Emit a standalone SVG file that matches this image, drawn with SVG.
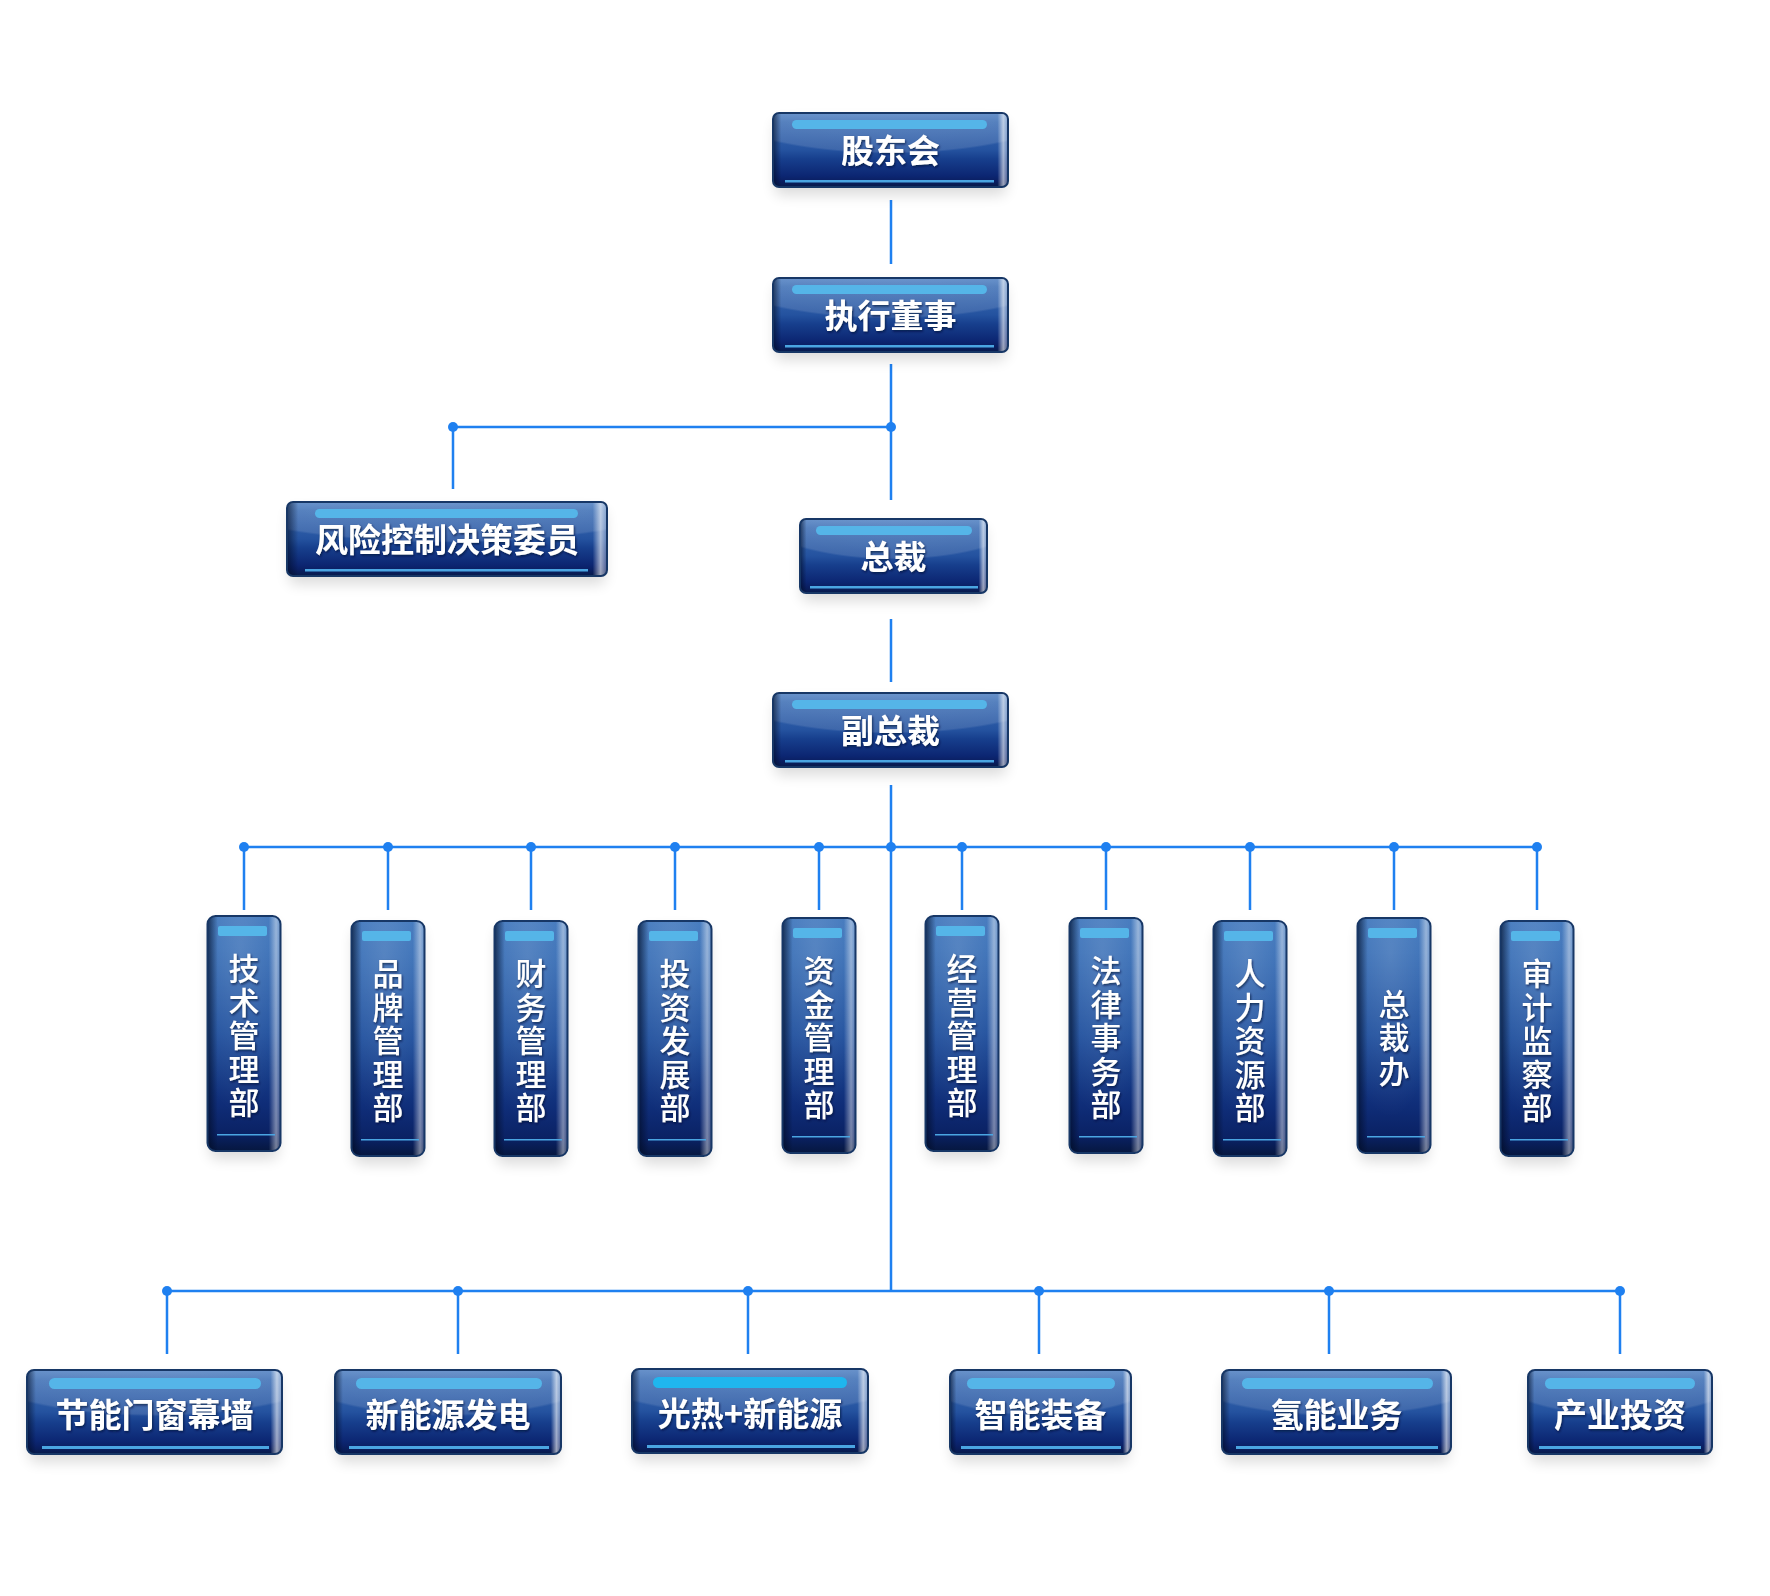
<svg xmlns="http://www.w3.org/2000/svg" width="1770" height="1596" viewBox="0 0 1770 1596">
<defs>
  <linearGradient id="gH" x1="0" y1="0" x2="0" y2="1">
    <stop offset="0" stop-color="#4f80c2"/>
    <stop offset="0.12" stop-color="#3b6db4"/>
    <stop offset="0.5" stop-color="#24529f"/>
    <stop offset="0.62" stop-color="#173f8d"/>
    <stop offset="0.85" stop-color="#0c2672"/>
    <stop offset="0.92" stop-color="#0a1f62"/>
    <stop offset="1" stop-color="#071a4a"/>
  </linearGradient>
  <linearGradient id="gEH" x1="0" y1="0" x2="1" y2="0">
    <stop offset="0" stop-color="#000a20" stop-opacity="0.6"/>
    <stop offset="0.035" stop-color="#000a20" stop-opacity="0"/>
    <stop offset="0.955" stop-color="#ffffff" stop-opacity="0"/>
    <stop offset="0.98" stop-color="#ffffff" stop-opacity="0.6"/>
    <stop offset="1" stop-color="#ffffff" stop-opacity="0.25"/>
  </linearGradient>
  <radialGradient id="gGl" cx="0.5" cy="-0.3" r="0.85">
    <stop offset="0" stop-color="#ffffff" stop-opacity="0.2"/>
    <stop offset="0.97" stop-color="#ffffff" stop-opacity="0.12"/>
    <stop offset="1" stop-color="#ffffff" stop-opacity="0"/>
  </radialGradient>
  <linearGradient id="gV" x1="0" y1="0" x2="0" y2="1">
    <stop offset="0" stop-color="#3c74bb"/>
    <stop offset="0.15" stop-color="#356cb5"/>
    <stop offset="0.5" stop-color="#1f4f9d"/>
    <stop offset="0.8" stop-color="#0f2d78"/>
    <stop offset="0.93" stop-color="#0a2163"/>
    <stop offset="1" stop-color="#06173f"/>
  </linearGradient>
  <linearGradient id="gEV" x1="0" y1="0" x2="1" y2="0">
    <stop offset="0" stop-color="#000a20" stop-opacity="0.65"/>
    <stop offset="0.14" stop-color="#000a20" stop-opacity="0"/>
    <stop offset="0.84" stop-color="#ffffff" stop-opacity="0"/>
    <stop offset="0.94" stop-color="#ffffff" stop-opacity="0.45"/>
    <stop offset="1" stop-color="#ffffff" stop-opacity="0.2"/>
  </linearGradient>
  <radialGradient id="gVG" cx="0.45" cy="0.15" r="0.7">
    <stop offset="0" stop-color="#ffffff" stop-opacity="0.16"/>
    <stop offset="1" stop-color="#ffffff" stop-opacity="0"/>
  </radialGradient>
  <filter id="fSh" x="-20%" y="-30%" width="140%" height="170%">
    <feGaussianBlur stdDeviation="7"/>
  </filter>
  <filter id="fTx" x="-10%" y="-20%" width="120%" height="150%">
    <feDropShadow dx="1" dy="1.5" stdDeviation="0.8" flood-color="#001030" flood-opacity="0.7"/>
  </filter>
  <style>
    .shadow{fill:#000;opacity:0.14;filter:url(#fSh)}
    .hb{fill:url(#gH)}
    .vb{fill:url(#gV)}
    .gl{fill:url(#gGl)}
    .vgl{fill:url(#gVG)}
    .eh{fill:url(#gEH)}
    .ev{fill:url(#gEV)}
    .pill{fill:#55b5e8}
    .pill2{fill:#1fb6ee}
    .bl{fill:#4aa5e2}
    .frame{fill:none;stroke:#173766;stroke-width:2}
    .ht{font-family:"Noto Sans CJK SC","Noto Sans",sans-serif;font-size:33px;font-weight:700;fill:#ffffff;text-anchor:middle;filter:url(#fTx)}
    .vt{font-family:"Noto Sans CJK SC","Noto Sans",sans-serif;font-size:31px;font-weight:500;fill:#ffffff;text-anchor:middle;writing-mode:vertical-rl;letter-spacing:2.5px;filter:url(#fTx)}
    .ln{stroke:#1f80f0;stroke-width:2.5;fill:none}
    .dot{fill:#1f80f0}
  </style>
</defs>
<rect x="0" y="0" width="1770" height="1596" fill="#ffffff"/>

<g id="connectors">
  <path class="ln" d="M891 200V264M891 364V500M453 427H891M453 427V489M891 619V682M891 785V1291M244 847H1537"/>
  <path class="ln" d="M244 847V910M388 847V910M531 847V910M675 847V910M819 847V910M962 847V910M1106 847V910M1250 847V910M1394 847V910M1537 847V910"/>
  <path class="ln" d="M167 1291H1620M167 1291V1354M458 1291V1354M748 1291V1354M1039 1291V1354M1329 1291V1354M1620 1291V1354"/>
  <circle class="dot" cx="453" cy="427" r="5"/><circle class="dot" cx="891" cy="427" r="5"/>
  <circle class="dot" cx="244" cy="847" r="5"/><circle class="dot" cx="388" cy="847" r="5"/><circle class="dot" cx="531" cy="847" r="5"/><circle class="dot" cx="675" cy="847" r="5"/><circle class="dot" cx="819" cy="847" r="5"/><circle class="dot" cx="891" cy="847" r="5"/><circle class="dot" cx="962" cy="847" r="5"/><circle class="dot" cx="1106" cy="847" r="5"/><circle class="dot" cx="1250" cy="847" r="5"/><circle class="dot" cx="1394" cy="847" r="5"/><circle class="dot" cx="1537" cy="847" r="5"/>
  <circle class="dot" cx="167" cy="1291" r="5"/><circle class="dot" cx="458" cy="1291" r="5"/><circle class="dot" cx="748" cy="1291" r="5"/><circle class="dot" cx="1039" cy="1291" r="5"/><circle class="dot" cx="1329" cy="1291" r="5"/><circle class="dot" cx="1620" cy="1291" r="5"/>
</g>

<g id="n-gudonghui">
  <rect class="shadow" x="775" y="121" width="231" height="74" rx="6"/>
  <rect class="hb" x="773" y="113" width="235" height="74" rx="6"/>
  <rect class="gl" x="773" y="113" width="235" height="74" rx="6"/>
  <rect class="eh" x="773" y="113" width="235" height="74" rx="6"/>
  <rect class="pill" x="792" y="120" width="195" height="9" rx="4.5"/>
  <rect class="bl" x="785" y="180" width="209" height="2.5"/>
  <rect class="frame" x="773" y="113" width="235" height="74" rx="6"/>
  <text class="ht" x="890.5" y="163">股东会</text>
</g>

<g id="n-zhixingdongshi">
  <rect class="shadow" x="775" y="286" width="231" height="74" rx="6"/>
  <rect class="hb" x="773" y="278" width="235" height="74" rx="6"/>
  <rect class="gl" x="773" y="278" width="235" height="74" rx="6"/>
  <rect class="eh" x="773" y="278" width="235" height="74" rx="6"/>
  <rect class="pill" x="792" y="285" width="195" height="9" rx="4.5"/>
  <rect class="bl" x="785" y="345" width="209" height="2.5"/>
  <rect class="frame" x="773" y="278" width="235" height="74" rx="6"/>
  <text class="ht" x="890.5" y="328">执行董事</text>
</g>

<g id="n-fengxian">
  <rect class="shadow" x="289" y="510" width="316" height="74" rx="6"/>
  <rect class="hb" x="287" y="502" width="320" height="74" rx="6"/>
  <rect class="gl" x="287" y="502" width="320" height="74" rx="6"/>
  <rect class="eh" x="287" y="502" width="320" height="74" rx="6"/>
  <rect class="pill" x="315" y="509" width="263" height="9" rx="4.5"/>
  <rect class="bl" x="305" y="569" width="283" height="2.5"/>
  <rect class="frame" x="287" y="502" width="320" height="74" rx="6"/>
  <text class="ht" x="447" y="552">风险控制决策委员</text>
</g>

<g id="n-zongcai">
  <rect class="shadow" x="802" y="527" width="183" height="74" rx="6"/>
  <rect class="hb" x="800" y="519" width="187" height="74" rx="6"/>
  <rect class="gl" x="800" y="519" width="187" height="74" rx="6"/>
  <rect class="eh" x="800" y="519" width="187" height="74" rx="6"/>
  <rect class="pill" x="816" y="526" width="156" height="9" rx="4.5"/>
  <rect class="bl" x="810" y="586" width="168" height="2.5"/>
  <rect class="frame" x="800" y="519" width="187" height="74" rx="6"/>
  <text class="ht" x="893.5" y="569">总裁</text>
</g>

<g id="n-fuzongcai">
  <rect class="shadow" x="775" y="701" width="231" height="74" rx="6"/>
  <rect class="hb" x="773" y="693" width="235" height="74" rx="6"/>
  <rect class="gl" x="773" y="693" width="235" height="74" rx="6"/>
  <rect class="eh" x="773" y="693" width="235" height="74" rx="6"/>
  <rect class="pill" x="792" y="700" width="195" height="9" rx="4.5"/>
  <rect class="bl" x="785" y="760" width="209" height="2.5"/>
  <rect class="frame" x="773" y="693" width="235" height="74" rx="6"/>
  <text class="ht" x="890.5" y="743">副总裁</text>
</g>

<g id="d-jishu">
  <rect class="shadow" x="209.5" y="924" width="69" height="235" rx="8"/>
  <rect class="vb" x="207.5" y="916" width="73" height="235" rx="8"/>
  <rect class="vgl" x="207.5" y="916" width="73" height="235" rx="8"/>
  <rect class="ev" x="207.5" y="916" width="73" height="235" rx="8"/>
  <rect class="pill" x="218" y="926" width="49" height="10" rx="2"/>
  <rect class="bl" x="217" y="1134" width="58" height="1.5"/>
  <rect class="frame" x="207.5" y="916" width="73" height="235" rx="8"/>
  <text class="vt" x="244" y="1036.5">技术管理部</text>
</g>

<g id="d-pinpai">
  <rect class="shadow" x="353.5" y="929" width="69" height="235" rx="8"/>
  <rect class="vb" x="351.5" y="921" width="73" height="235" rx="8"/>
  <rect class="vgl" x="351.5" y="921" width="73" height="235" rx="8"/>
  <rect class="ev" x="351.5" y="921" width="73" height="235" rx="8"/>
  <rect class="pill" x="362" y="931" width="49" height="10" rx="2"/>
  <rect class="bl" x="361" y="1139" width="58" height="1.5"/>
  <rect class="frame" x="351.5" y="921" width="73" height="235" rx="8"/>
  <text class="vt" x="388" y="1041.5">品牌管理部</text>
</g>

<g id="d-caiwu">
  <rect class="shadow" x="496.5" y="929" width="69" height="235" rx="8"/>
  <rect class="vb" x="494.5" y="921" width="73" height="235" rx="8"/>
  <rect class="vgl" x="494.5" y="921" width="73" height="235" rx="8"/>
  <rect class="ev" x="494.5" y="921" width="73" height="235" rx="8"/>
  <rect class="pill" x="505" y="931" width="49" height="10" rx="2"/>
  <rect class="bl" x="504" y="1139" width="58" height="1.5"/>
  <rect class="frame" x="494.5" y="921" width="73" height="235" rx="8"/>
  <text class="vt" x="531" y="1041.5">财务管理部</text>
</g>

<g id="d-touzi">
  <rect class="shadow" x="640.5" y="929" width="69" height="235" rx="8"/>
  <rect class="vb" x="638.5" y="921" width="73" height="235" rx="8"/>
  <rect class="vgl" x="638.5" y="921" width="73" height="235" rx="8"/>
  <rect class="ev" x="638.5" y="921" width="73" height="235" rx="8"/>
  <rect class="pill" x="649" y="931" width="49" height="10" rx="2"/>
  <rect class="bl" x="648" y="1139" width="58" height="1.5"/>
  <rect class="frame" x="638.5" y="921" width="73" height="235" rx="8"/>
  <text class="vt" x="675" y="1041.5">投资发展部</text>
</g>

<g id="d-zijin">
  <rect class="shadow" x="784.5" y="926" width="69" height="235" rx="8"/>
  <rect class="vb" x="782.5" y="918" width="73" height="235" rx="8"/>
  <rect class="vgl" x="782.5" y="918" width="73" height="235" rx="8"/>
  <rect class="ev" x="782.5" y="918" width="73" height="235" rx="8"/>
  <rect class="pill" x="793" y="928" width="49" height="10" rx="2"/>
  <rect class="bl" x="792" y="1136" width="58" height="1.5"/>
  <rect class="frame" x="782.5" y="918" width="73" height="235" rx="8"/>
  <text class="vt" x="819" y="1038.5">资金管理部</text>
</g>

<g id="d-jingying">
  <rect class="shadow" x="927.5" y="924" width="69" height="235" rx="8"/>
  <rect class="vb" x="925.5" y="916" width="73" height="235" rx="8"/>
  <rect class="vgl" x="925.5" y="916" width="73" height="235" rx="8"/>
  <rect class="ev" x="925.5" y="916" width="73" height="235" rx="8"/>
  <rect class="pill" x="936" y="926" width="49" height="10" rx="2"/>
  <rect class="bl" x="935" y="1134" width="58" height="1.5"/>
  <rect class="frame" x="925.5" y="916" width="73" height="235" rx="8"/>
  <text class="vt" x="962" y="1036.5">经营管理部</text>
</g>

<g id="d-falv">
  <rect class="shadow" x="1071.5" y="926" width="69" height="235" rx="8"/>
  <rect class="vb" x="1069.5" y="918" width="73" height="235" rx="8"/>
  <rect class="vgl" x="1069.5" y="918" width="73" height="235" rx="8"/>
  <rect class="ev" x="1069.5" y="918" width="73" height="235" rx="8"/>
  <rect class="pill" x="1080" y="928" width="49" height="10" rx="2"/>
  <rect class="bl" x="1079" y="1136" width="58" height="1.5"/>
  <rect class="frame" x="1069.5" y="918" width="73" height="235" rx="8"/>
  <text class="vt" x="1106" y="1038.5">法律事务部</text>
</g>

<g id="d-renli">
  <rect class="shadow" x="1215.5" y="929" width="69" height="235" rx="8"/>
  <rect class="vb" x="1213.5" y="921" width="73" height="235" rx="8"/>
  <rect class="vgl" x="1213.5" y="921" width="73" height="235" rx="8"/>
  <rect class="ev" x="1213.5" y="921" width="73" height="235" rx="8"/>
  <rect class="pill" x="1224" y="931" width="49" height="10" rx="2"/>
  <rect class="bl" x="1223" y="1139" width="58" height="1.5"/>
  <rect class="frame" x="1213.5" y="921" width="73" height="235" rx="8"/>
  <text class="vt" x="1250" y="1041.5">人力资源部</text>
</g>

<g id="d-zongcaiban">
  <rect class="shadow" x="1359.5" y="926" width="69" height="235" rx="8"/>
  <rect class="vb" x="1357.5" y="918" width="73" height="235" rx="8"/>
  <rect class="vgl" x="1357.5" y="918" width="73" height="235" rx="8"/>
  <rect class="ev" x="1357.5" y="918" width="73" height="235" rx="8"/>
  <rect class="pill" x="1368" y="928" width="49" height="10" rx="2"/>
  <rect class="bl" x="1367" y="1136" width="58" height="1.5"/>
  <rect class="frame" x="1357.5" y="918" width="73" height="235" rx="8"/>
  <text class="vt" x="1394" y="1038.5">总裁办</text>
</g>

<g id="d-shenji">
  <rect class="shadow" x="1502.5" y="929" width="69" height="235" rx="8"/>
  <rect class="vb" x="1500.5" y="921" width="73" height="235" rx="8"/>
  <rect class="vgl" x="1500.5" y="921" width="73" height="235" rx="8"/>
  <rect class="ev" x="1500.5" y="921" width="73" height="235" rx="8"/>
  <rect class="pill" x="1511" y="931" width="49" height="10" rx="2"/>
  <rect class="bl" x="1510" y="1139" width="58" height="1.5"/>
  <rect class="frame" x="1500.5" y="921" width="73" height="235" rx="8"/>
  <text class="vt" x="1537" y="1041.5">审计监察部</text>
</g>

<g id="b-jieneng">
  <rect class="shadow" x="29" y="1378" width="251" height="84" rx="7"/>
  <rect class="hb" x="27" y="1370" width="255" height="84" rx="7"/>
  <rect class="gl" x="27" y="1370" width="255" height="84" rx="7"/>
  <rect class="eh" x="27" y="1370" width="255" height="84" rx="7"/>
  <rect class="pill" x="49" y="1378" width="212" height="11" rx="5.5"/>
  <rect class="bl" x="42" y="1446" width="227" height="3"/>
  <rect class="frame" x="27" y="1370" width="255" height="84" rx="7"/>
  <text class="ht" x="154.5" y="1427">节能门窗幕墙</text>
</g>

<g id="b-xinnengyuan">
  <rect class="shadow" x="337" y="1378" width="222" height="84" rx="7"/>
  <rect class="hb" x="335" y="1370" width="226" height="84" rx="7"/>
  <rect class="gl" x="335" y="1370" width="226" height="84" rx="7"/>
  <rect class="eh" x="335" y="1370" width="226" height="84" rx="7"/>
  <rect class="pill" x="356" y="1378" width="186" height="11" rx="5.5"/>
  <rect class="bl" x="349" y="1446" width="200" height="3"/>
  <rect class="frame" x="335" y="1370" width="226" height="84" rx="7"/>
  <text class="ht" x="448" y="1427">新能源发电</text>
</g>

<g id="b-guangre">
  <rect class="shadow" x="634" y="1377" width="232" height="84" rx="7"/>
  <rect class="hb" x="632" y="1369" width="236" height="84" rx="7"/>
  <rect class="gl" x="632" y="1369" width="236" height="84" rx="7"/>
  <rect class="eh" x="632" y="1369" width="236" height="84" rx="7"/>
  <rect class="pill2" x="653" y="1377" width="194" height="11" rx="5.5"/>
  <rect class="bl" x="647" y="1445" width="208" height="3"/>
  <rect class="frame" x="632" y="1369" width="236" height="84" rx="7"/>
  <text class="ht" x="750" y="1426">光热+新能源</text>
</g>

<g id="b-zhineng">
  <rect class="shadow" x="952" y="1378" width="177" height="84" rx="7"/>
  <rect class="hb" x="950" y="1370" width="181" height="84" rx="7"/>
  <rect class="gl" x="950" y="1370" width="181" height="84" rx="7"/>
  <rect class="eh" x="950" y="1370" width="181" height="84" rx="7"/>
  <rect class="pill" x="967" y="1378" width="148" height="11" rx="5.5"/>
  <rect class="bl" x="961" y="1446" width="160" height="3"/>
  <rect class="frame" x="950" y="1370" width="181" height="84" rx="7"/>
  <text class="ht" x="1040.5" y="1427">智能装备</text>
</g>

<g id="b-qingneng">
  <rect class="shadow" x="1224" y="1378" width="225" height="84" rx="7"/>
  <rect class="hb" x="1222" y="1370" width="229" height="84" rx="7"/>
  <rect class="gl" x="1222" y="1370" width="229" height="84" rx="7"/>
  <rect class="eh" x="1222" y="1370" width="229" height="84" rx="7"/>
  <rect class="pill" x="1242" y="1378" width="191" height="11" rx="5.5"/>
  <rect class="bl" x="1236" y="1446" width="202" height="3"/>
  <rect class="frame" x="1222" y="1370" width="229" height="84" rx="7"/>
  <text class="ht" x="1336.5" y="1427">氢能业务</text>
</g>

<g id="b-chanye">
  <rect class="shadow" x="1530" y="1378" width="180" height="84" rx="7"/>
  <rect class="hb" x="1528" y="1370" width="184" height="84" rx="7"/>
  <rect class="gl" x="1528" y="1370" width="184" height="84" rx="7"/>
  <rect class="eh" x="1528" y="1370" width="184" height="84" rx="7"/>
  <rect class="pill" x="1545" y="1378" width="150" height="11" rx="5.5"/>
  <rect class="bl" x="1539" y="1446" width="162" height="3"/>
  <rect class="frame" x="1528" y="1370" width="184" height="84" rx="7"/>
  <text class="ht" x="1620" y="1427">产业投资</text>
</g>
</svg>
